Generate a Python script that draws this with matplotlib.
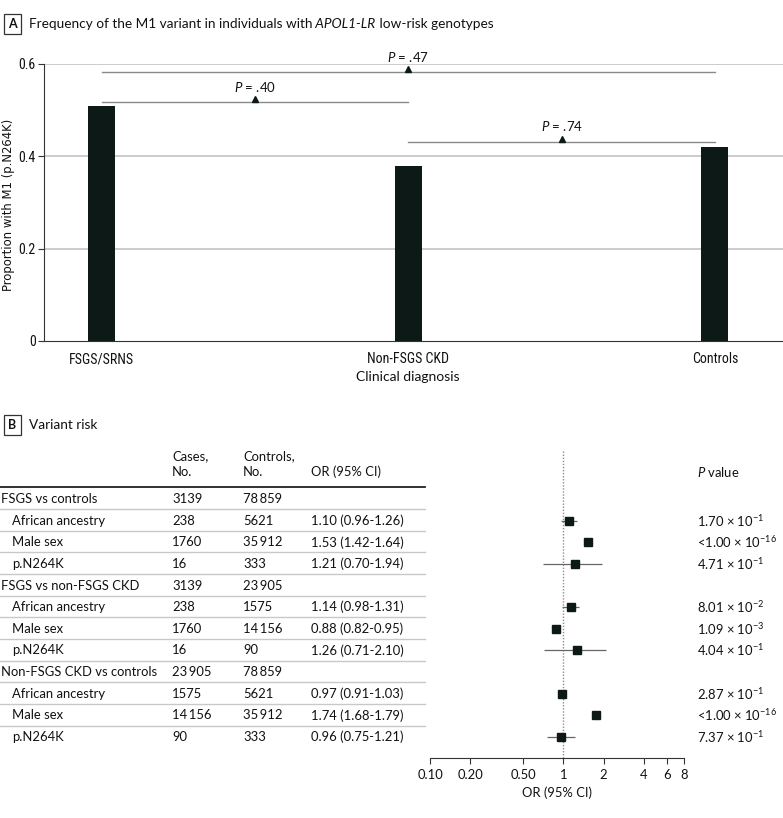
import matplotlib
matplotlib.use("Agg")
import matplotlib.pyplot as plt
from matplotlib import font_manager
from matplotlib.font_manager import FontProperties
from matplotlib.ticker import NullLocator

# ---------------- data ----------------
# Panel A
groups = ["FSGS/SRNS", "Non-FSGS CKD", "Controls"]
proportions = [0.51, 0.38, 0.42]
cmp_from = [0, 0, 1]
cmp_to = [1, 2, 2]
cmp_p = [".40", ".47", ".74"]
cmp_height = [0.518, 0.583, 0.432]
yticks_A = [0, 0.2, 0.4, 0.6]
ytick_labels_A = ["0", "0.2", "0.4", "0.6"]

# Panel B
row_labels = ["FSGS vs controls", "African ancestry", "Male sex", "p.N264K",
              "FSGS vs non-FSGS CKD", "African ancestry", "Male sex", "p.N264K",
              "Non-FSGS CKD vs controls", "African ancestry", "Male sex", "p.N264K"]
is_group = [True, False, False, False, True, False, False, False, True, False, False, False]
cases = [3139, 238, 1760, 16, 3139, 238, 1760, 16, 23905, 1575, 14156, 90]
controls = [78859, 5621, 35912, 333, 23905, 1575, 14156, 90, 78859, 5621, 35912, 333]
or_est = [None, 1.10, 1.53, 1.21, None, 1.14, 0.88, 1.26, None, 0.97, 1.74, 0.96]
or_lo = [None, 0.96, 1.42, 0.70, None, 0.98, 0.82, 0.71, None, 0.91, 1.68, 0.75]
or_hi = [None, 1.26, 1.64, 1.94, None, 1.31, 0.95, 2.10, None, 1.03, 1.79, 1.21]
p_prefix = [None, "", "<", "", None, "", "", "", None, "", "<", ""]
p_mant = [None, "1.70", "1.00", "4.71", None, "8.01", "1.09", "4.04", None, "2.87", "1.00", "7.37"]
p_exp = [None, -1, -16, -1, None, -2, -3, -1, None, -1, -16, -1]
or_ticks = [0.1, 0.2, 0.5, 1, 2, 4, 6, 8]
or_tick_labels = ["0.10", "0.20", "0.50", "1", "2", "4", "6", "8"]


# ---------------- fonts ----------------
def pick(names, default="DejaVu Sans"):
    for n in names:
        try:
            font_manager.findfont(FontProperties(family=n), fallback_to_default=False)
            return n
        except Exception:
            pass
    return default


MAIN = pick(["Lato", "Noto Sans", "Open Sans"])
NARROW = pick(["Liberation Sans Narrow", "Roboto Condensed", "Lato"])
plt.rcParams["font.family"] = [MAIN, "DejaVu Sans"]
plt.rcParams["mathtext.fontset"] = "custom"
plt.rcParams["mathtext.rm"] = MAIN
plt.rcParams["mathtext.it"] = MAIN + ":italic"
plt.rcParams["mathtext.bf"] = MAIN + ":bold"

TXT = "#111111"
BAR = "#0c1917"
W, H, DPI = 783, 818, 100
fig = plt.figure(figsize=(W / DPI, H / DPI), dpi=DPI)
fig.patch.set_facecolor("white")


def fx(px):
    return px / W


def fy(py):
    return 1 - py / H


# ---------------- panel titles ----------------
box = dict(boxstyle="square,pad=0.32", fc="white", ec="#333333", lw=0.9)
fig.text(fx(12.5), fy(24), "A", fontsize=9, fontweight="bold", ha="center", va="center", bbox=box, color=TXT)
t1 = fig.text(fx(29), fy(24), "Frequency of the M1 variant in individuals with", fontsize=9.8,
              ha="left", va="center", color=TXT)
t2 = fig.text(0, 0, " APOL1-LR", fontsize=9.8, style="italic", color=TXT)
t3 = fig.text(0, 0, " low-risk genotypes", fontsize=9.8, color=TXT)

fig.text(fx(12.5), fy(425), "B", fontsize=9, fontweight="bold", ha="center", va="center", bbox=box, color=TXT)
fig.text(fx(29), fy(425), "Variant risk", fontsize=9.8, ha="left", va="center", color=TXT)

# ---------------- panel A ----------------
axA = fig.add_axes([fx(44), fy(341), fx(783) - fx(44), (341 - 64) / H])
xs = list(range(len(groups)))
axA.set_xlim(-0.189, 2.222)
axA.set_ylim(0, 0.6)
for yv in yticks_A[1:]:
    axA.axhline(yv, color="#c4c4c4", lw=1.2, zorder=0)
axA.bar(xs, proportions, width=0.088, color=BAR, zorder=3)
for a, b, p, h in zip(cmp_from, cmp_to, cmp_p, cmp_height):
    axA.plot([a, b], [h, h], color="#8a8a8a", lw=1.0, zorder=2, clip_on=False)
    mid = (a + b) / 2
    axA.plot([mid], [h + 0.0065], marker="^", ms=5, color=BAR, zorder=4, clip_on=False)
    axA.text(mid, h + 0.033, r"$\mathit{P}$ = " + p, ha="center", va="center",
             fontsize=9.5, color=TXT, clip_on=False)
for s in ["top", "right"]:
    axA.spines[s].set_visible(False)
axA.spines["left"].set_color("#333333")
axA.spines["bottom"].set_color("#333333")
axA.set_yticks(yticks_A)
axA.set_yticklabels(ytick_labels_A, fontsize=10, color=TXT, family=[NARROW, "DejaVu Sans"])
axA.set_xticks(xs)
axA.set_xticklabels(groups, fontsize=10, color=TXT, family=[NARROW, "DejaVu Sans"])
axA.tick_params(axis="x", length=0, pad=8)
axA.tick_params(axis="y", length=4, width=0.8, color="#333333", pad=2)
fig.text(fx(408), fy(377), "Clinical diagnosis", fontsize=10, ha="center", va="center", color=TXT)
fig.text(fx(9), fy(205), "Proportion with M1 (p.N264K)", fontsize=8.4, rotation=90,
         ha="center", va="center", color=TXT, family="DejaVu Sans")

# ---------------- panel B ----------------
TOP_PX, BOT_PX = 450, 758
ROW0_PX, ROW_STEP = 499, 21.64
ytop = (TOP_PX - ROW0_PX) / ROW_STEP
ybot = (BOT_PX - ROW0_PX) / ROW_STEP


def ry(py):
    return (py - ROW0_PX) / ROW_STEP


axT = fig.add_axes([0, fy(BOT_PX), 1, (BOT_PX - TOP_PX) / H])
axT.set_xlim(0, W)
axT.set_ylim(ybot, ytop)
axT.axis("off")

axF = fig.add_axes([fx(430), fy(BOT_PX), fx(684) - fx(430), (BOT_PX - TOP_PX) / H])
axF.set_ylim(ybot, ytop)


def fmt(n):
    return f"{n:,}".replace(",", "\u2009") if n >= 10000 else str(n)


FS = 9.4
X_LAB, X_SUB, X_CASE, X_CTRL, X_OR, X_P = 1, 12, 172, 243, 311, 697
# header
axT.text(X_CASE, ry(456), "Cases,", fontsize=FS, va="center", ha="left", color=TXT)
axT.text(X_CASE, ry(472), "No.", fontsize=FS, va="center", ha="left", color=TXT)
axT.text(X_CTRL, ry(456), "Controls,", fontsize=FS, va="center", ha="left", color=TXT)
axT.text(X_CTRL, ry(472), "No.", fontsize=FS, va="center", ha="left", color=TXT)
axT.text(X_OR, ry(472), "OR (95% CI)", fontsize=FS, va="center", ha="left", color=TXT)
axT.text(X_P, ry(472), r"$\mathit{P}$ value", fontsize=FS, va="center", ha="left", color=TXT)
axT.plot([0, 425], [ry(487), ry(487)], color="#222222", lw=1.3, clip_on=False)

n = len(row_labels)
for i in range(n):
    x0 = X_LAB if is_group[i] else X_SUB
    axT.text(x0, i, row_labels[i], fontsize=FS, va="center", ha="left", color=TXT)
    axT.text(X_CASE, i, fmt(cases[i]), fontsize=FS, va="center", ha="left", color=TXT)
    axT.text(X_CTRL, i, fmt(controls[i]), fontsize=FS, va="center", ha="left", color=TXT)
    if or_est[i] is not None:
        axT.text(X_OR, i, f"{or_est[i]:.2f} ({or_lo[i]:.2f}-{or_hi[i]:.2f})", fontsize=FS,
                 va="center", ha="left", color=TXT)
        axT.text(X_P, i, p_prefix[i] + p_mant[i] + r" × 10$^{" + str(p_exp[i]) + "}$",
                 fontsize=FS, va="center", ha="left", color=TXT)
    if i < n - 1:
        axT.plot([0, 425], [i + 0.47, i + 0.47], color="#c8c8c8", lw=1.0, clip_on=False)

# forest
rows = [i for i in range(n) if or_est[i] is not None]
axF.set_xscale("log")
axF.set_xlim(0.1, 8)
axF.axvline(1, color="#8c8c8c", ls=(0, (1, 1.2)), lw=1.0, zorder=1)
axF.hlines(rows, [or_lo[i] for i in rows], [or_hi[i] for i in rows], color="#666666", lw=0.9, zorder=2)
axF.plot([or_est[i] for i in rows], rows, "s", ms=6, color=BAR, zorder=3, linestyle="none")
for s in ["top", "right", "left"]:
    axF.spines[s].set_visible(False)
axF.spines["bottom"].set_color("#333333")
axF.set_yticks([])
axF.xaxis.set_minor_locator(NullLocator())
axF.set_xticks(or_ticks)
axF.set_xticklabels(or_tick_labels, fontsize=FS, color=TXT)
axF.tick_params(axis="x", length=4, width=0.8, color="#333333", pad=4)
fig.text(fx(557), fy(793), "OR (95% CI)", fontsize=FS, ha="center", va="center", color=TXT)

fig.canvas.draw()
# chain the mixed-style title pieces
r = fig.canvas.get_renderer()
inv = fig.transFigure.inverted()
bb1 = t1.get_window_extent(r)
p = inv.transform((bb1.x1, bb1.y0))
t2.set_position(p)
t2.set_va("bottom")
fig.canvas.draw()
bb2 = t2.get_window_extent(r)
p = inv.transform((bb2.x1, bb2.y0))
t3.set_position(p)
t3.set_va("bottom")

fig.savefig("out.png", dpi=DPI, facecolor="white")
